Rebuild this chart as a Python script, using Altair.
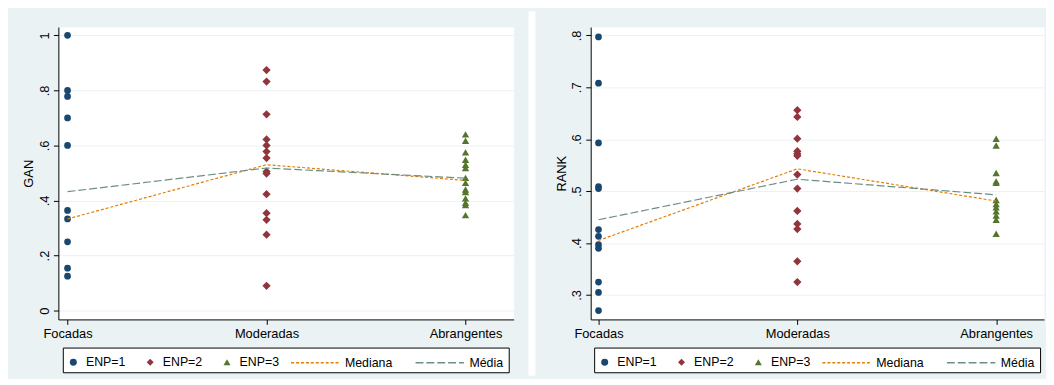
import altair as alt
import pandas as pd

categories = ["Focadas", "Moderadas", "Abrangentes"]
enp_series = ["ENP=1", "ENP=2", "ENP=3"]
stat_series = ["Mediana", "Média"]

gan_focadas = [1.0, 0.80, 0.778, 0.70, 0.60, 0.364, 0.333, 0.25, 0.154, 0.125]
gan_moderadas = [0.874, 0.832, 0.713, 0.622, 0.600, 0.578, 0.554, 0.505, 0.498,
                 0.423, 0.354, 0.330, 0.276, 0.090]
gan_abrangentes = [0.640, 0.617, 0.575, 0.548, 0.530, 0.518, 0.482, 0.464, 0.440,
                   0.431, 0.408, 0.392, 0.383, 0.347]
gan_mediana = [0.333, 0.530, 0.473]
gan_media = [0.432, 0.518, 0.481]

rank_focadas = [0.797, 0.708, 0.593, 0.509, 0.505, 0.426, 0.413, 0.397, 0.390,
                0.325, 0.305, 0.270]
rank_moderadas = [0.656, 0.643, 0.601, 0.577, 0.572, 0.568, 0.532, 0.505, 0.462,
                  0.437, 0.427, 0.365, 0.325]
rank_abrangentes = [0.601, 0.588, 0.535, 0.519, 0.516, 0.483, 0.475, 0.469, 0.461,
                    0.453, 0.445, 0.418]
rank_mediana = [0.405, 0.543, 0.481]
rank_media = [0.445, 0.523, 0.493]

gan_ticks = [0, 0.2, 0.4, 0.6, 0.8, 1.0]
rank_ticks = [0.3, 0.4, 0.5, 0.6, 0.7, 0.8]

enp_colors = ["#1A476F", "#90353B", "#55752F"]
enp_shapes = ["circle", "diamond", "triangle-up"]
enp_sizes = [46, 70, 55]
stat_colors = ["#E37E00", "#6E8E84"]
stat_dashes = [[3, 2], [8, 3]]
LINE_PATH = "M0,0L15.5,0"

H = 296
FONT = "Liberation Sans"
LEG_FS = 12.5
LEG_W = 451.5


def series_frame(serie, cat, vals):
    return pd.DataFrame({"cat": [cat] * len(vals), "serie": [serie] * len(vals), "v": vals})


def lines_frame(med, mean):
    rows = []
    for serie, vals in zip(stat_series, [med, mean]):
        for cat, v in zip(categories, vals):
            rows.append({"cat": cat, "serie": serie, "v": v})
    return pd.DataFrame(rows)


tick_expr = "datum.value == 0 ? '0' : datum.value == 1 ? '1' : '.' + round(datum.value * 10)"


def legend_points(lx):
    return alt.Legend(title=None, orient="none", legendX=lx + 3.9, legendY=H + 37,
                      direction="horizontal", columns=3, symbolSize=50,
                      labelFontSize=LEG_FS, labelFont=FONT, labelColor="black",
                      labelOffset=6.5, columnPadding=17.8, padding=0,
                      symbolOpacity=1, zindex=1)


def legend_lines(lx):
    return alt.Legend(title=None, orient="none", legendX=lx + 228.4, legendY=H + 37.5,
                      direction="horizontal", columns=2, symbolSize=40,
                      symbolType=LINE_PATH, symbolOffset=-4, symbolStrokeWidth=1.3,
                      labelFontSize=LEG_FS, labelFont=FONT, labelColor="black",
                      labelOffset=48.3, columnPadding=20, padding=0, zindex=1)


def panel(foc, mod, abr, med, mean, title, ydomain, yticks, width, align, padding, lx, gap):
    xscale = alt.Scale(type="point", domain=categories, padding=padding, align=align)
    yscale = alt.Scale(domain=ydomain, nice=False, zero=False)
    xaxis = alt.Axis(title=None, labelAngle=0, labelFontSize=13, labelFont=FONT,
                     tickSize=5, labelPadding=3, grid=False, domainColor="black",
                     tickColor="black", labelColor="black")
    yaxis = alt.Axis(title=title, values=yticks, labelExpr=tick_expr, labelAngle=270,
                     labelAlign="center", labelBaseline="alphabetic", labelPadding=5,
                     labelFontSize=13, labelFont=FONT, tickSize=5, grid=True,
                     gridColor="#EAF2F3", gridWidth=1, domainColor="black",
                     tickColor="black", labelColor="black", titleFontSize=13,
                     titleFont=FONT, titleFontWeight="normal", titleColor="black",
                     titlePadding=3)
    x = alt.X("cat:N", scale=xscale, axis=xaxis, sort=categories)
    y = alt.Y("v:Q", scale=yscale, axis=yaxis)
    fill_scale = alt.Scale(domain=enp_series, range=enp_colors)
    shape_scale = alt.Scale(domain=enp_series, range=enp_shapes)
    one = pd.DataFrame({"a": [0]})
    # legend frame (white box with black border) below the plot
    layers = [
        alt.Chart(one).mark_rect(fill="white", stroke="black", strokeWidth=1).encode(
            x=alt.value(lx), x2=alt.value(lx + LEG_W),
            y=alt.value(H + 29), y2=alt.value(H + 54)
        )
    ]
    for serie, cat, vals, size in zip(enp_series, categories, [foc, mod, abr], enp_sizes):
        layers.append(
            alt.Chart(series_frame(serie, cat, vals)).mark_point(
                filled=True, opacity=1, size=size
            ).encode(
                x=x, y=y,
                fill=alt.Fill("serie:N", scale=fill_scale, legend=legend_points(lx)),
                shape=alt.Shape("serie:N", scale=shape_scale, legend=legend_points(lx)),
            )
        )
    layers.append(
        alt.Chart(lines_frame(med, mean)).mark_line(strokeWidth=1.2).encode(
            x=x, y=y,
            stroke=alt.Stroke("serie:N", scale=alt.Scale(domain=stat_series, range=stat_colors),
                              legend=legend_lines(lx)),
            strokeDash=alt.StrokeDash("serie:N", scale=alt.Scale(domain=stat_series, range=stat_dashes),
                                      legend=legend_lines(lx)),
        )
    )
    if gap:
        layers.append(
            alt.Chart(one).mark_rect(color="white").encode(
                x=alt.value(width + 15), x2=alt.value(width + 22),
                y=alt.value(-16), y2=alt.value(H + 57)
            )
        )
    return alt.layer(*layers).properties(width=width, height=H)


left = panel(gan_focadas, gan_moderadas, gan_abrangentes, gan_mediana, gan_media,
             "GAN", [-0.032, 1.03], gan_ticks, 461, 0.16, 0.144, 5, True)
right = panel(rank_focadas, rank_moderadas, rank_abrangentes, rank_mediana, rank_media,
              "RANK", [0.253, 0.816], rank_ticks, 459, 0.14, 0.14, 4, False)

chart = alt.hconcat(left, right, spacing=78, bounds="flush").resolve_scale(
    x="independent", y="independent", fill="independent", stroke="independent",
    shape="independent", strokeDash="independent"
).configure(
    background="#EAF2F3", padding={"left": 14, "top": 0, "right": 1, "bottom": 0},
    font=FONT
).configure_view(fill="white", stroke="transparent")

chart.save("out.html", embed_options={"renderer": "svg", "actions": False})
